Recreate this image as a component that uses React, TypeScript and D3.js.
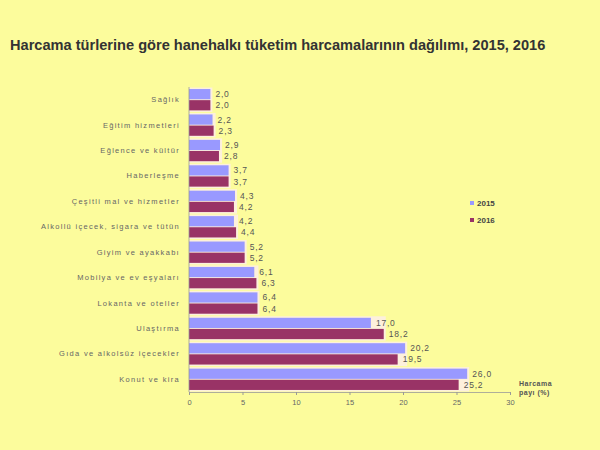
import React, { useEffect, useRef } from 'react';
import * as d3 from 'd3';

const categories: string[] = [
  'Sağlık',
  'Eğitim hizmetleri',
  'Eğlence ve kültür',
  'Haberleşme',
  'Çeşitli mal ve hizmetler',
  'Alkollü içecek, sigara ve tütün',
  'Giyim ve ayakkabı',
  'Mobilya ve ev eşyaları',
  'Lokanta ve oteller',
  'Ulaştırma',
  'Gıda ve alkolsüz içecekler',
  'Konut ve kira',
];
const values2015: number[] = [2.0, 2.2, 2.9, 3.7, 4.3, 4.2, 5.2, 6.1, 6.4, 17.0, 20.2, 26.0];
const values2016: number[] = [2.0, 2.3, 2.8, 3.7, 4.2, 4.4, 5.2, 6.3, 6.4, 18.2, 19.5, 25.2];
const seriesNames: string[] = ['2015', '2016'];
const seriesColors: string[] = ['#9999ff', '#993366'];
const xTicks: number[] = [0, 5, 10, 15, 20, 25, 30];

const App: React.FC = () => {
  const containerRef = useRef<HTMLDivElement | null>(null);

  useEffect(() => {
    if (!containerRef.current) return;
    containerRef.current.innerHTML = '';

    const width = 600;
    const height = 450;
    const font = "'Liberation Sans', Arial, sans-serif";

    const svg = d3
      .select(containerRef.current)
      .append('svg')
      .attr('width', width)
      .attr('height', height)
      .style('position', 'absolute')
      .style('left', '0px')
      .style('top', '0px');

    svg.append('rect').attr('width', width).attr('height', height).attr('fill', '#fcfc9c');

    // title
    svg
      .append('text')
      .attr('x', 10)
      .attr('y', 50)
      .attr('font-family', font)
      .attr('font-weight', 'bold')
      .attr('font-size', 14.6)
      .attr('fill', '#333333')
      .text('Harcama türlerine göre hanehalkı tüketim harcamalarının dağılımı, 2015, 2016');

    const xScale = d3.scaleLinear().domain([0, 30]).range([189, 510]);
    const yScale = d3.scaleBand<string>().domain(categories).range([87, 392]).paddingInner(0.16).paddingOuter(0.08);
    const inner = d3.scaleBand<string>().domain(seriesNames).range([0, yScale.bandwidth()]).paddingInner(0.08);

    const data = categories.map((c, i) => ({ cat: c, vals: [values2015[i], values2016[i]] }));

    const groups = svg
      .append('g')
      .selectAll('g')
      .data(data)
      .enter()
      .append('g')
      .attr('transform', (d) => `translate(0, ${yScale(d.cat)})`);

    // light shadow behind each group
    groups
      .append('rect')
      .attr('x', xScale(0))
      .attr('y', -1.5)
      .attr('width', (d) => xScale(Math.max(...d.vals)) - xScale(0) + 2)
      .attr('height', yScale.bandwidth() + 3)
      .attr('fill', '#fdf0dc');

    seriesNames.forEach((s, si) => {
      groups
        .append('rect')
        .attr('x', xScale(0))
        .attr('y', inner(s) as number)
        .attr('width', (d) => xScale(d.vals[si]) - xScale(0))
        .attr('height', inner.bandwidth())
        .attr('fill', seriesColors[si]);

      groups
        .append('text')
        .attr('x', (d) => xScale(d.vals[si]) + 5)
        .attr('y', (inner(s) as number) + inner.bandwidth() / 2 + 3)
        .attr('font-family', font)
        .attr('font-size', 8.5)
        .attr('letter-spacing', 0.8)
        .attr('fill', '#555555')
        .text((d) => d3.format('.1f')(d.vals[si]).replace('.', ','));
    });

    // category labels
    groups
      .append('text')
      .attr('x', 180)
      .attr('y', yScale.bandwidth() / 2 + 2.5)
      .attr('text-anchor', 'end')
      .attr('font-family', font)
      .attr('font-size', 7.5)
      .attr('letter-spacing', 1.3)
      .attr('fill', '#666666')
      .text((d) => d.cat);

    // axes
    svg
      .append('line')
      .attr('x1', xScale(0))
      .attr('x2', xScale(0))
      .attr('y1', 87)
      .attr('y2', 392)
      .attr('stroke', '#999999')
      .attr('stroke-width', 0.8);

    const xAxis = svg
      .append('g')
      .attr('transform', 'translate(0, 392)')
      .call(
        d3
          .axisBottom(xScale)
          .tickValues(xTicks)
          .tickSize(3)
          .tickFormat((d) => String(d))
      );
    xAxis.select('.domain').attr('stroke', '#999999').attr('stroke-width', 0.8);
    xAxis.selectAll('.tick line').attr('stroke', '#999999');
    xAxis
      .selectAll('.tick text')
      .attr('font-family', font)
      .attr('font-size', 7.5)
      .attr('fill', '#666666')
      .attr('dy', '0.9em');

    // axis title
    const axTitle = svg
      .append('text')
      .attr('x', 519)
      .attr('y', 386)
      .attr('font-family', font)
      .attr('font-size', 7)
      .attr('font-weight', 'bold')
      .attr('letter-spacing', 0.5)
      .attr('fill', '#555555');
    axTitle.append('tspan').attr('x', 519).text('Harcama');
    axTitle.append('tspan').attr('x', 519).attr('dy', 9).text('payı (%)');

    // legend
    const legend = svg
      .append('g')
      .selectAll('g')
      .data(seriesNames)
      .enter()
      .append('g')
      .attr('transform', (_d, i) => `translate(470, ${204 + i * 17})`);
    legend
      .append('rect')
      .attr('x', 0)
      .attr('y', -3)
      .attr('width', 4)
      .attr('height', 4)
      .attr('fill', (_d, i) => seriesColors[i]);
    legend
      .append('text')
      .attr('x', 7)
      .attr('y', 2)
      .attr('font-family', font)
      .attr('font-size', 8)
      .attr('font-weight', 'bold')
      .attr('fill', '#444444')
      .text((d) => d);
  }, []);

  return <div ref={containerRef} />;
};

export default App;
